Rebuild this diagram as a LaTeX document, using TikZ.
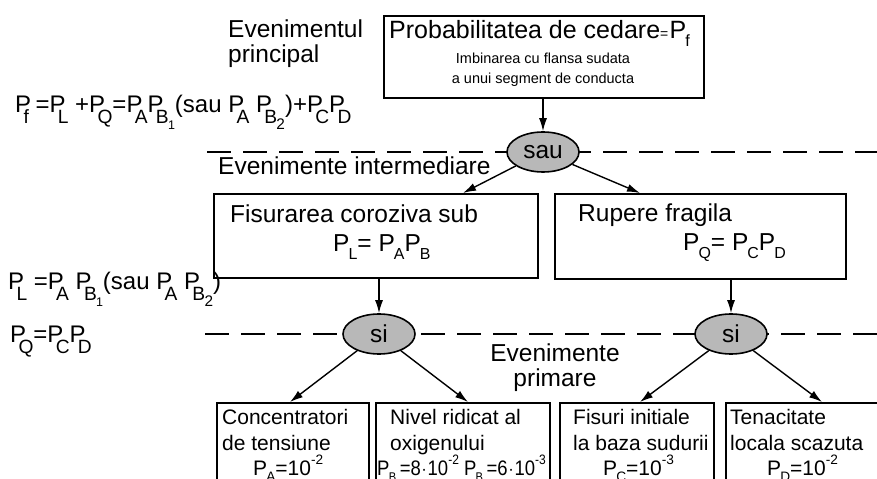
\documentclass[tikz,border=0pt]{standalone}
\usepackage{fontspec}
\setmainfont{Liberation Sans}
\usetikzlibrary{arrows.meta,shapes.geometric}
\newcommand\fLbl{\fontsize{24.5bp}{29bp}\selectfont}
\newcommand\fTtl{\fontsize{25bp}{30bp}\selectfont}
\newcommand\fSml{\fontsize{14.5bp}{18bp}\selectfont}
\newcommand\fBtm{\fontsize{21bp}{26bp}\selectfont}
\newcommand\fFrm{\fontsize{24bp}{29bp}\selectfont}
\newcommand\xdn[2][0.65]{\kern-0.04em\raisebox{-0.3em}{\scalebox{#1}{#2}}}
\newcommand\xup[2][0.65]{\raisebox{0.5em}{\scalebox{#1}{#2}}}
\newcommand\xl[1]{\kern-0.32em\raisebox{-0.45em}{\scalebox{0.8}{#1}}}
\tikzset{
  box/.style={draw, line width=1.6bp, anchor=north west, inner sep=0pt},
  gate/.style={ellipse, draw, line width=1.6bp, fill=black!28, minimum width=72bp,
    minimum height=40bp, inner sep=0pt, font=\fLbl},
  dashline/.style={line width=1.5bp, dash pattern=on 24bp off 12bp},
  arr/.style={line width=1.4bp, -{Latex[length=13bp,width=8bp]}},
  txt/.style={anchor=base west, inner sep=0pt},
  ctxt/.style={anchor=base, inner sep=0pt},
}
\begin{document}
\begin{tikzpicture}[x=1bp,y=-1bp]
\useasboundingbox (0,0) rectangle (877,479);
\clip (0,0) rectangle (877,479);
% dashed level lines
\draw[dashline] (207,152) -- (877,152);
\draw[dashline] (205,334) -- (877,334);
% top event
\node[txt,font=\fLbl] (ev1) at (228,38) {Evenimentul};
\node[txt,font=\fLbl] (ev2) at (228,63) {principal};
\node[box,minimum width=320bp,minimum height=82bp] (topbox) at (383,15) {};
\node[txt,font=\fTtl] (toptitle) at (389,39) {Probabilitatea de cedare{\fontsize{14bp}{14bp}\selectfont=}\kern0.05em P\xdn{f}};
\node[ctxt,font=\fSml] (topsub1) at (543,64) {Imbinarea cu flansa sudata};
\node[ctxt,font=\fSml] (topsub2) at (543,84) {a unui segment de conducta};
% formulas on the left
\node[txt,font=\fFrm] (f1) at (15,113) {P\xl{f} =P\xl{L} +P\xl{Q}=P\xl{A}P\xl{B\xdn{1}}(sau P\xl{A} P\xl{B\xdn[0.8]{2}})+P\xl{C}P\xl{D}};
\node[txt,font=\fFrm] (f2) at (8,290) {P\xl{L} =P\xl{A} P\xl{B\xdn{1}}(sau P\xl{A} P\xl{B\xdn[0.8]{2}})};
\node[txt,font=\fFrm] (f3) at (10,343) {P\xl{Q}=P\xl{C}P\xl{D}};
% OR gate
\node[gate] (sau) at (543,152) {sau};
\node[txt,font=\fLbl] (evint) at (218,175) {Evenimente intermediare};
% intermediate events
\node[box,minimum width=324bp,minimum height=84bp] (lbox) at (213,193) {};
\node[txt,font=\fLbl] (ltitle) at (230,223) {Fisurarea coroziva sub};
\node[txt,font=\fLbl] (lform) at (333,252) {P\xdn{L}= P\xdn{A}P\xdn{B}};
\node[box,minimum width=291bp,minimum height=85bp] (rbox) at (554,193) {};
\node[txt,font=\fLbl] (rtitle) at (578,222) {Rupere fragila};
\node[txt,font=\fLbl] (rform) at (683,251) {P\xdn{Q}= P\xdn{C}P\xdn{D}};
% AND gates
\node[gate] (si1) at (379,334) {si};
\node[gate] (si2) at (731,334) {si};
\node[ctxt,font=\fLbl] (evp1) at (555,361) {Evenimente};
\node[ctxt,font=\fLbl] (evp2) at (555,386) {primare};
% primary events
\node[box,minimum width=152bp,minimum height=100bp] (b1) at (216,402) {};
\node[box,minimum width=174bp,minimum height=100bp] (b2) at (375,402) {};
\node[box,minimum width=154bp,minimum height=100bp] (b3) at (559,402) {};
\node[box,minimum width=160bp,minimum height=100bp] (b4) at (725,402) {};
\node[txt,font=\fBtm] (b1a) at (222,424) {Concentratori};
\node[txt,font=\fBtm] (b1b) at (222,450) {de tensiune};
\node[txt,font=\fBtm] (b1c) at (253,475) {P\xdn{A}=10\xup{-2}};
\node[txt,font=\fBtm] (b2a) at (390,424) {Nivel ridicat al};
\node[txt,font=\fBtm] (b2b) at (390,450) {oxigenului};
\node[txt,font=\fBtm] (b2c) at (377,475) {\scalebox{0.88}[1]{P\xdn[0.6]{B\xdn{1}}=8\kern0.05em$\cdot$\kern0.05em10\xup{-2} P\xdn[0.6]{B\xdn{2}}=6\kern0.05em$\cdot$\kern0.05em10\xup{-3}}};
\node[txt,font=\fBtm] (b3a) at (573,424) {Fisuri initiale};
\node[txt,font=\fBtm] (b3b) at (573,450) {la baza sudurii};
\node[txt,font=\fBtm] (b3c) at (603,475) {P\xdn{C}=10\xup{-3}};
\node[txt,font=\fBtm] (b4a) at (730,424) {Tenacitate};
\node[txt,font=\fBtm] (b4b) at (730,450) {locala scazuta};
\node[txt,font=\fBtm] (b4c) at (767,475) {P\xdn{D}=10\xup{-2}};
% arrow tips on boxes
\coordinate (t1) at (463,193);
\coordinate (t2) at (640,193);
\coordinate (t3) at (290,402);
\coordinate (t4) at (468,402);
\coordinate (t5) at (640,402);
\coordinate (t6) at (822,402);
% connectors
\draw[arr] (topbox.south -| sau.north) -- (sau.north);
\draw[arr] (sau) -- (t1);
\draw[arr] (sau) -- (t2);
\draw[arr] (lbox.south -| si1.north) -- (si1.north);
\draw[arr] (rbox.south -| si2.north) -- (si2.north);
\draw[arr] (si1) -- (t3);
\draw[arr] (si1) -- (t4);
\draw[arr] (si2) -- (t5);
\draw[arr] (si2) -- (t6);
\end{tikzpicture}
\end{document}
